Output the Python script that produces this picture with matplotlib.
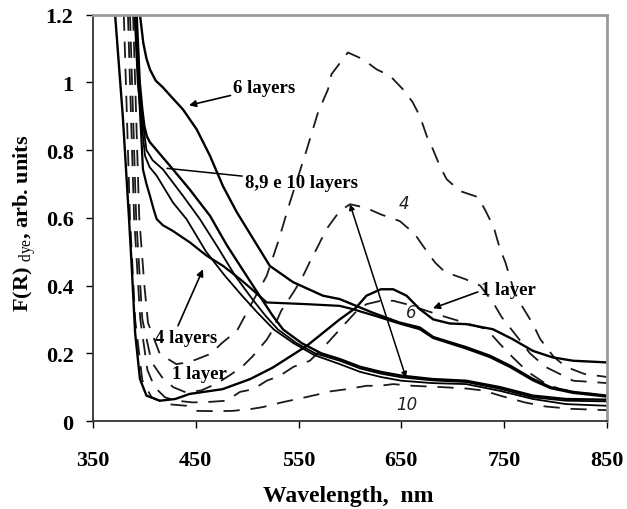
import matplotlib
matplotlib.use("Agg")
import matplotlib.pyplot as plt

plt.rcParams["font.family"] = ["Liberation Serif", "DejaVu Serif"]
plt.rcParams["mathtext.fontset"] = "custom"
plt.rcParams["mathtext.rm"] = "Liberation Serif"

# solid curves (without dye peak)
wl_s1 = [371.5, 379, 385, 387.6, 391, 395.7, 402, 415, 430, 444, 476, 503, 525, 558, 590,
         606, 616, 630, 642, 655, 668, 681, 697, 713, 739, 758, 778, 797, 817, 850]
fr_s1 = [1.2, 0.9, 0.6, 0.46, 0.26, 0.124, 0.075, 0.06, 0.065, 0.08, 0.094, 0.124, 0.158, 0.222, 0.30,
         0.335, 0.37, 0.389, 0.389, 0.37, 0.33, 0.30, 0.288, 0.286, 0.271, 0.242, 0.207, 0.188, 0.178, 0.173]

wl_s4 = [391, 396, 398.6, 402, 405.4, 409, 412, 418, 427.8, 444.4, 460.6, 476.5, 493, 502.7, 519, 558,
         590, 603, 625, 648, 668, 681, 713, 736, 756, 778, 795, 817, 850]
fr_s4 = [1.2, 0.9, 0.743, 0.7, 0.665, 0.625, 0.596, 0.578, 0.561, 0.527, 0.488, 0.458, 0.419, 0.394,
         0.35, 0.345, 0.34, 0.33, 0.31, 0.288, 0.271, 0.245, 0.214, 0.189, 0.159, 0.12, 0.097, 0.083, 0.072]

wl_s6 = [395.7, 398.9, 402, 405.4, 411, 418, 426.6, 437.5, 450.9, 463.8, 476.5, 489.8, 522, 544.6, 573.7,
         590, 622, 648, 668, 681, 713, 736, 756, 778, 795, 817, 850]
fr_s6 = [1.2, 1.117, 1.07, 1.038, 1.005, 0.985, 0.956, 0.92, 0.861, 0.783, 0.693, 0.617, 0.458, 0.41,
         0.37, 0.36, 0.32, 0.291, 0.276, 0.248, 0.218, 0.193, 0.163, 0.124, 0.1, 0.086, 0.075]

wl_s8 = [392.5, 395.5, 398, 400, 402.5, 405.4, 425, 444, 463.8, 480, 497, 512, 525, 535, 553, 572, 590,
         610, 630, 650, 680, 713, 746, 778, 810, 850]
fr_s8 = [1.2, 1.0, 0.92, 0.87, 0.84, 0.823, 0.753, 0.684, 0.606, 0.52, 0.44, 0.37, 0.31, 0.27, 0.23,
         0.2, 0.183, 0.16, 0.145, 0.134, 0.124, 0.119, 0.1, 0.075, 0.065, 0.063]

wl_s9 = [391.5, 394.5, 397, 399, 402, 408, 418, 437.5, 454, 472, 488, 505, 518, 530, 548, 566, 590,
         610, 630, 650, 680, 713, 746, 778, 810, 850]
fr_s9 = [1.2, 1.0, 0.92, 0.87, 0.8, 0.77, 0.743, 0.665, 0.596, 0.51, 0.43, 0.36, 0.31, 0.27, 0.23,
         0.2, 0.178, 0.155, 0.14, 0.129, 0.12, 0.115, 0.095, 0.07, 0.06, 0.058]

wl_s10 = [390.5, 393.5, 396, 398, 400.6, 405, 412, 427.8, 441, 460, 478, 495, 510, 526, 545, 565, 590,
          610, 630, 650, 680, 713, 746, 778, 810, 850]
fr_s10 = [1.2, 1.0, 0.92, 0.86, 0.783, 0.75, 0.724, 0.645, 0.596, 0.5, 0.43, 0.37, 0.32, 0.27, 0.23,
          0.195, 0.168, 0.145, 0.13, 0.119, 0.112, 0.109, 0.089, 0.065, 0.05, 0.045]

# dashed curves (with dye)
wl_d1 = [389, 395, 400, 403.5, 415, 431, 444, 464, 476.5, 490, 499.5, 519, 530, 541.6, 558, 569,
         578.6, 582, 598, 612.6, 626, 639, 651.6, 661, 668, 674.6, 680.7, 687.5, 694, 707, 724.5,
         732, 740, 746, 751, 756, 760, 768, 778, 785, 798, 810, 828, 850]
fr_d1 = [1.2, 0.6, 0.4, 0.29, 0.198, 0.168, 0.174, 0.198, 0.233, 0.266, 0.32, 0.429, 0.528, 0.646,
         0.802, 0.912, 0.979, 1.024, 1.088, 1.068, 1.038, 1.019, 0.979, 0.941, 0.9, 0.842, 0.802,
         0.752, 0.714, 0.679, 0.661, 0.62, 0.57, 0.507, 0.47, 0.42, 0.38, 0.336, 0.286, 0.242, 0.19,
         0.16, 0.139, 0.13]

wl_d4 = [386, 392, 398, 407, 417, 428, 440, 455, 470, 483, 496, 505, 519, 525, 533, 545, 553, 561,
         569, 577, 590, 600, 615, 630, 648.6, 663, 671, 682.7, 692.4, 712, 726.5, 739, 747.5, 760.5,
         775, 790, 804, 817, 832, 850]
fr_d4 = [1.2, 0.6, 0.3, 0.174, 0.13, 0.1, 0.085, 0.09, 0.11, 0.135, 0.163, 0.19, 0.24, 0.27, 0.325,
         0.38, 0.42, 0.47, 0.517, 0.566, 0.62, 0.64, 0.63, 0.61, 0.59, 0.552, 0.517, 0.468, 0.44, 0.419,
         0.4, 0.351, 0.307, 0.257, 0.2, 0.16, 0.139, 0.119, 0.116, 0.112]

wl_d6 = [384, 390, 396, 403, 410, 420, 431, 447, 461, 480, 493, 506, 519, 532, 545, 561, 575, 590,
         605, 616, 630, 642, 655, 670, 690, 712, 733, 746, 758, 773, 788, 804, 825, 850]
fr_d6 = [1.2, 0.6, 0.3, 0.15, 0.1, 0.07, 0.06, 0.055, 0.056, 0.06, 0.086, 0.094, 0.119, 0.134, 0.16,
         0.178, 0.22, 0.27, 0.32, 0.345, 0.355, 0.355, 0.345, 0.33, 0.31, 0.29, 0.271, 0.227, 0.189,
         0.145, 0.115, 0.094, 0.082, 0.078]

wl_d10 = [380, 386, 391, 398, 407, 421.7, 441, 451, 470, 486, 502.7, 515, 535, 558, 571, 577, 597,
          616, 629, 642, 661, 690, 713, 730, 746, 770, 790, 815, 850]
fr_d10 = [1.2, 0.6, 0.3, 0.12, 0.07, 0.05, 0.045, 0.03, 0.029, 0.03, 0.035, 0.041, 0.056, 0.071,
          0.08, 0.086, 0.094, 0.104, 0.104, 0.109, 0.104, 0.1, 0.096, 0.09, 0.075, 0.055, 0.043, 0.036,
          0.032]

x_ticks = [350, 450, 550, 650, 750, 850]
y_ticks = [0, 0.2, 0.4, 0.6, 0.8, 1.0, 1.2]
y_tick_labels = ["0", "0.2", "0.4", "0.6", "0.8", "1", "1.2"]

fig = plt.figure(figsize=(6.27, 5.10), dpi=100)
ax = fig.add_axes([0.1483, 0.1725, 0.8198, 0.797])

for wl, fr in [(wl_d1, fr_d1), (wl_d4, fr_d4), (wl_d6, fr_d6), (wl_d10, fr_d10)]:
    ax.plot(wl, fr, color="#1a1a1a", lw=1.3, dashes=(9, 6))

ax.plot(wl_s1, fr_s1, color="black", lw=1.7)
ax.plot(wl_s4, fr_s4, color="black", lw=1.6)
ax.plot(wl_s6, fr_s6, color="black", lw=1.7)
ax.plot(wl_s8, fr_s8, color="black", lw=1.7)
ax.plot(wl_s9, fr_s9, color="black", lw=1.3)
ax.plot(wl_s10, fr_s10, color="black", lw=1.3)

ax.set_xlim(350, 850)
ax.set_ylim(0, 1.2)
ax.set_xticks(x_ticks)
ax.set_yticks(y_ticks)
ax.set_yticklabels(y_tick_labels)
for lab in ax.get_xticklabels() + ax.get_yticklabels():
    lab.set_fontweight("bold")
    lab.set_fontsize(16)
ax.tick_params(axis="x", direction="out", length=5, width=1, pad=16)
ax.tick_params(axis="y", direction="out", length=5, width=1, pad=9)

for side in ["left", "bottom"]:
    ax.spines[side].set_color("#333333")
    ax.spines[side].set_linewidth(1.3)
for side in ["top", "right"]:
    ax.spines[side].set_color("#9a9a9a")
    ax.spines[side].set_linewidth(2)

ax.set_xlabel("Wavelength,  nm", fontsize=17, fontweight="bold")
ax.xaxis.set_label_coords(0.496, -0.158)
ax.set_ylabel(r"F(R) $_{\mathrm{dye}}$, arb. units", fontsize=16, fontweight="bold")
ax.yaxis.set_label_coords(-0.105, 0.49)

lbl = dict(fontsize=13.5, fontweight="bold", va="center", ha="left")
arr = dict(arrowstyle="-|>", color="black", lw=1.2, mutation_scale=10, shrinkA=0, shrinkB=0)

ax.annotate("6 layers", xy=(443.4, 0.932), xytext=(486.5, 0.985), arrowprops=arr, **lbl)
ax.annotate("8,9 e 10 layers", xy=(422, 0.746), xytext=(497.9, 0.705),
            arrowprops=dict(arrowstyle="-", color="black", lw=1.1, shrinkA=0, shrinkB=0), **lbl)
ax.annotate("4 layers", xy=(457, 0.448), xytext=(410.3, 0.248),
            arrowprops=dict(arr, relpos=(0.35, 1.0)), **lbl)
ax.text(426.8, 0.139, "1 layer", **lbl)
ax.annotate("1 layer", xy=(680.7, 0.333), xytext=(727, 0.389),
            arrowprops=dict(arr, relpos=(0.0, 0.4)), **lbl)

ax.annotate("", xy=(600, 0.64), xytext=(654.5, 0.128),
            arrowprops=dict(arrowstyle="<|-|>", color="black", lw=1.1, mutation_scale=8,
                            shrinkA=0, shrinkB=0))

hand = dict(fontsize=12, family="DejaVu Sans", fontstyle="italic", color="#222222",
            ha="center", va="center")
ax.text(653, 0.645, "4", **hand)
ax.text(660, 0.322, "6", **hand)
ax.text(655, 0.05, "10", **hand)

fig.savefig("out.png", dpi=100)
